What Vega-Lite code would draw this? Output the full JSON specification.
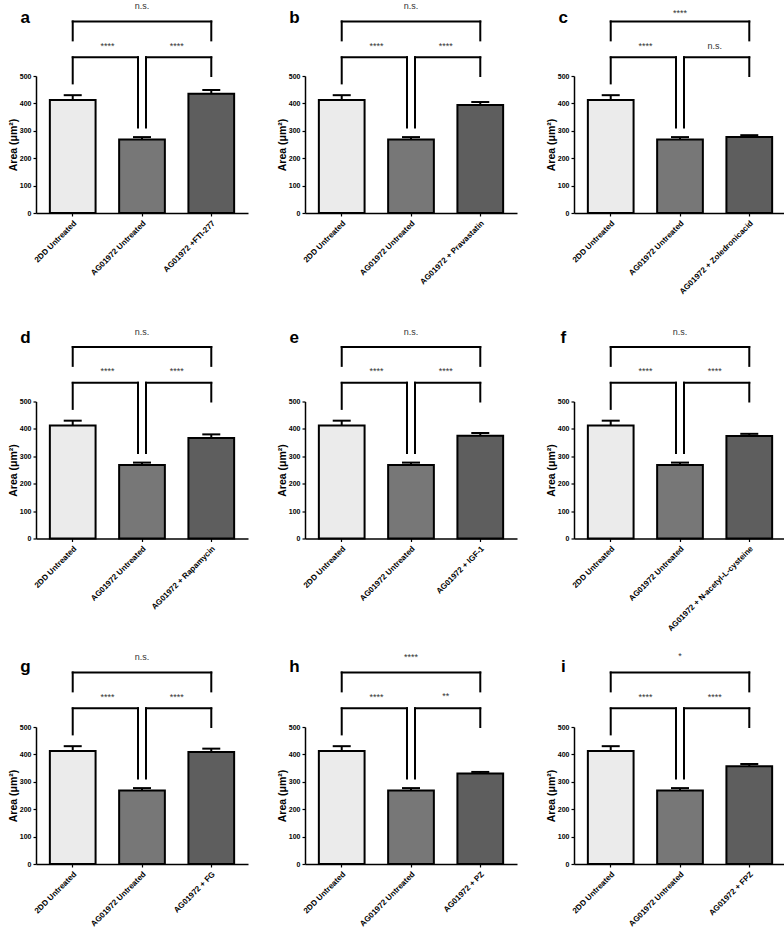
{
  "$schema": "https://vega.github.io/schema/vega-lite/v6.json",
  "background": "white",
  "padding": {"left": 8, "top": 2, "right": 0, "bottom": 0},
  "data": {"values": [
    {"panel":"a","kind":"bar","group":"1|2DD Untreated","value":412,"upper":430,"shade":"s1"},
    {"panel":"a","kind":"bar","group":"2|AG01972 Untreated","value":268,"upper":277,"shade":"s2"},
    {"panel":"a","kind":"bar","group":"3|AG01972 +FTI-277","value":435,"upper":449,"shade":"s3"},
    {"panel":"a","kind":"legC","group":"1|2DD Untreated","lo":630,"hi":699},
    {"panel":"a","kind":"legC","group":"3|AG01972 +FTI-277","lo":630,"hi":699},
    {"panel":"a","kind":"legC","group":"1|2DD Untreated","lo":473,"hi":568},
    {"panel":"a","kind":"legC","group":"3|AG01972 +FTI-277","lo":500,"hi":568},
    {"panel":"a","kind":"legL","group":"2|AG01972 Untreated","lo":312,"hi":568},
    {"panel":"a","kind":"legR","group":"2|AG01972 Untreated","lo":312,"hi":568},
    {"panel":"a","kind":"hC","group":"1|2DD Untreated","group2":"3|AG01972 +FTI-277","hi":699},
    {"panel":"a","kind":"hL","group":"1|2DD Untreated","group2":"2|AG01972 Untreated","hi":568},
    {"panel":"a","kind":"hR","group":"2|AG01972 Untreated","group2":"3|AG01972 +FTI-277","hi":568},
    {"panel":"a","kind":"labTop","group":"2|AG01972 Untreated","hi":743,"text":"n.s."},
    {"panel":"a","kind":"labSide","group":"1|2DD Untreated","hi":600,"text":"****"},
    {"panel":"a","kind":"labSide","group":"2|AG01972 Untreated","hi":600,"text":"****"},
    {"panel":"a","kind":"letter","group":"1|2DD Untreated","hi":693,"text":"a"},

    {"panel":"b","kind":"bar","group":"1|2DD Untreated","value":412,"upper":430,"shade":"s1"},
    {"panel":"b","kind":"bar","group":"2|AG01972 Untreated","value":268,"upper":277,"shade":"s2"},
    {"panel":"b","kind":"bar","group":"3|AG01972 + Pravastatin","value":394,"upper":405,"shade":"s3"},
    {"panel":"b","kind":"legC","group":"1|2DD Untreated","lo":630,"hi":699},
    {"panel":"b","kind":"legC","group":"3|AG01972 + Pravastatin","lo":630,"hi":699},
    {"panel":"b","kind":"legC","group":"1|2DD Untreated","lo":473,"hi":568},
    {"panel":"b","kind":"legC","group":"3|AG01972 + Pravastatin","lo":500,"hi":568},
    {"panel":"b","kind":"legL","group":"2|AG01972 Untreated","lo":312,"hi":568},
    {"panel":"b","kind":"legR","group":"2|AG01972 Untreated","lo":312,"hi":568},
    {"panel":"b","kind":"hC","group":"1|2DD Untreated","group2":"3|AG01972 + Pravastatin","hi":699},
    {"panel":"b","kind":"hL","group":"1|2DD Untreated","group2":"2|AG01972 Untreated","hi":568},
    {"panel":"b","kind":"hR","group":"2|AG01972 Untreated","group2":"3|AG01972 + Pravastatin","hi":568},
    {"panel":"b","kind":"labTop","group":"2|AG01972 Untreated","hi":743,"text":"n.s."},
    {"panel":"b","kind":"labSide","group":"1|2DD Untreated","hi":600,"text":"****"},
    {"panel":"b","kind":"labSide","group":"2|AG01972 Untreated","hi":600,"text":"****"},
    {"panel":"b","kind":"letter","group":"1|2DD Untreated","hi":693,"text":"b"},

    {"panel":"c","kind":"bar","group":"1|2DD Untreated","value":412,"upper":430,"shade":"s1"},
    {"panel":"c","kind":"bar","group":"2|AG01972 Untreated","value":268,"upper":277,"shade":"s2"},
    {"panel":"c","kind":"bar","group":"3|AG01972 + Zoledronicacid","value":277,"upper":284,"shade":"s3"},
    {"panel":"c","kind":"legC","group":"1|2DD Untreated","lo":630,"hi":699},
    {"panel":"c","kind":"legC","group":"3|AG01972 + Zoledronicacid","lo":630,"hi":699},
    {"panel":"c","kind":"legC","group":"1|2DD Untreated","lo":473,"hi":568},
    {"panel":"c","kind":"legC","group":"3|AG01972 + Zoledronicacid","lo":500,"hi":568},
    {"panel":"c","kind":"legL","group":"2|AG01972 Untreated","lo":312,"hi":568},
    {"panel":"c","kind":"legR","group":"2|AG01972 Untreated","lo":312,"hi":568},
    {"panel":"c","kind":"hC","group":"1|2DD Untreated","group2":"3|AG01972 + Zoledronicacid","hi":699},
    {"panel":"c","kind":"hL","group":"1|2DD Untreated","group2":"2|AG01972 Untreated","hi":568},
    {"panel":"c","kind":"hR","group":"2|AG01972 Untreated","group2":"3|AG01972 + Zoledronicacid","hi":568},
    {"panel":"c","kind":"labTop","group":"2|AG01972 Untreated","hi":718,"text":"****"},
    {"panel":"c","kind":"labSide","group":"1|2DD Untreated","hi":600,"text":"****"},
    {"panel":"c","kind":"labSide","group":"2|AG01972 Untreated","hi":600,"text":"n.s."},
    {"panel":"c","kind":"letter","group":"1|2DD Untreated","hi":693,"text":"c"},

    {"panel":"d","kind":"bar","group":"1|2DD Untreated","value":412,"upper":430,"shade":"s1"},
    {"panel":"d","kind":"bar","group":"2|AG01972 Untreated","value":268,"upper":277,"shade":"s2"},
    {"panel":"d","kind":"bar","group":"3|AG01972 + Rapamycin","value":367,"upper":380,"shade":"s3"},
    {"panel":"d","kind":"legC","group":"1|2DD Untreated","lo":630,"hi":699},
    {"panel":"d","kind":"legC","group":"3|AG01972 + Rapamycin","lo":630,"hi":699},
    {"panel":"d","kind":"legC","group":"1|2DD Untreated","lo":473,"hi":568},
    {"panel":"d","kind":"legC","group":"3|AG01972 + Rapamycin","lo":500,"hi":568},
    {"panel":"d","kind":"legL","group":"2|AG01972 Untreated","lo":312,"hi":568},
    {"panel":"d","kind":"legR","group":"2|AG01972 Untreated","lo":312,"hi":568},
    {"panel":"d","kind":"hC","group":"1|2DD Untreated","group2":"3|AG01972 + Rapamycin","hi":699},
    {"panel":"d","kind":"hL","group":"1|2DD Untreated","group2":"2|AG01972 Untreated","hi":568},
    {"panel":"d","kind":"hR","group":"2|AG01972 Untreated","group2":"3|AG01972 + Rapamycin","hi":568},
    {"panel":"d","kind":"labTop","group":"2|AG01972 Untreated","hi":743,"text":"n.s."},
    {"panel":"d","kind":"labSide","group":"1|2DD Untreated","hi":600,"text":"****"},
    {"panel":"d","kind":"labSide","group":"2|AG01972 Untreated","hi":600,"text":"****"},
    {"panel":"d","kind":"letter","group":"1|2DD Untreated","hi":712,"text":"d"},

    {"panel":"e","kind":"bar","group":"1|2DD Untreated","value":412,"upper":430,"shade":"s1"},
    {"panel":"e","kind":"bar","group":"2|AG01972 Untreated","value":268,"upper":277,"shade":"s2"},
    {"panel":"e","kind":"bar","group":"3|AG01972 + IGF-1","value":375,"upper":385,"shade":"s3"},
    {"panel":"e","kind":"legC","group":"1|2DD Untreated","lo":630,"hi":699},
    {"panel":"e","kind":"legC","group":"3|AG01972 + IGF-1","lo":630,"hi":699},
    {"panel":"e","kind":"legC","group":"1|2DD Untreated","lo":473,"hi":568},
    {"panel":"e","kind":"legC","group":"3|AG01972 + IGF-1","lo":500,"hi":568},
    {"panel":"e","kind":"legL","group":"2|AG01972 Untreated","lo":312,"hi":568},
    {"panel":"e","kind":"legR","group":"2|AG01972 Untreated","lo":312,"hi":568},
    {"panel":"e","kind":"hC","group":"1|2DD Untreated","group2":"3|AG01972 + IGF-1","hi":699},
    {"panel":"e","kind":"hL","group":"1|2DD Untreated","group2":"2|AG01972 Untreated","hi":568},
    {"panel":"e","kind":"hR","group":"2|AG01972 Untreated","group2":"3|AG01972 + IGF-1","hi":568},
    {"panel":"e","kind":"labTop","group":"2|AG01972 Untreated","hi":743,"text":"n.s."},
    {"panel":"e","kind":"labSide","group":"1|2DD Untreated","hi":600,"text":"****"},
    {"panel":"e","kind":"labSide","group":"2|AG01972 Untreated","hi":600,"text":"****"},
    {"panel":"e","kind":"letter","group":"1|2DD Untreated","hi":712,"text":"e"},

    {"panel":"f","kind":"bar","group":"1|2DD Untreated","value":412,"upper":430,"shade":"s1"},
    {"panel":"f","kind":"bar","group":"2|AG01972 Untreated","value":268,"upper":277,"shade":"s2"},
    {"panel":"f","kind":"bar","group":"3|AG01972 + N-acetyl-L-cysteine","value":374,"upper":382,"shade":"s3"},
    {"panel":"f","kind":"legC","group":"1|2DD Untreated","lo":630,"hi":699},
    {"panel":"f","kind":"legC","group":"3|AG01972 + N-acetyl-L-cysteine","lo":630,"hi":699},
    {"panel":"f","kind":"legC","group":"1|2DD Untreated","lo":473,"hi":568},
    {"panel":"f","kind":"legC","group":"3|AG01972 + N-acetyl-L-cysteine","lo":500,"hi":568},
    {"panel":"f","kind":"legL","group":"2|AG01972 Untreated","lo":312,"hi":568},
    {"panel":"f","kind":"legR","group":"2|AG01972 Untreated","lo":312,"hi":568},
    {"panel":"f","kind":"hC","group":"1|2DD Untreated","group2":"3|AG01972 + N-acetyl-L-cysteine","hi":699},
    {"panel":"f","kind":"hL","group":"1|2DD Untreated","group2":"2|AG01972 Untreated","hi":568},
    {"panel":"f","kind":"hR","group":"2|AG01972 Untreated","group2":"3|AG01972 + N-acetyl-L-cysteine","hi":568},
    {"panel":"f","kind":"labTop","group":"2|AG01972 Untreated","hi":743,"text":"n.s."},
    {"panel":"f","kind":"labSide","group":"1|2DD Untreated","hi":600,"text":"****"},
    {"panel":"f","kind":"labSide","group":"2|AG01972 Untreated","hi":600,"text":"****"},
    {"panel":"f","kind":"letter","group":"1|2DD Untreated","hi":712,"text":"f"},

    {"panel":"g","kind":"bar","group":"1|2DD Untreated","value":412,"upper":430,"shade":"s1"},
    {"panel":"g","kind":"bar","group":"2|AG01972 Untreated","value":268,"upper":277,"shade":"s2"},
    {"panel":"g","kind":"bar","group":"3|AG01972 + FG","value":409,"upper":421,"shade":"s3"},
    {"panel":"g","kind":"legC","group":"1|2DD Untreated","lo":630,"hi":699},
    {"panel":"g","kind":"legC","group":"3|AG01972 + FG","lo":630,"hi":699},
    {"panel":"g","kind":"legC","group":"1|2DD Untreated","lo":473,"hi":568},
    {"panel":"g","kind":"legC","group":"3|AG01972 + FG","lo":500,"hi":568},
    {"panel":"g","kind":"legL","group":"2|AG01972 Untreated","lo":312,"hi":568},
    {"panel":"g","kind":"legR","group":"2|AG01972 Untreated","lo":312,"hi":568},
    {"panel":"g","kind":"hC","group":"1|2DD Untreated","group2":"3|AG01972 + FG","hi":699},
    {"panel":"g","kind":"hL","group":"1|2DD Untreated","group2":"2|AG01972 Untreated","hi":568},
    {"panel":"g","kind":"hR","group":"2|AG01972 Untreated","group2":"3|AG01972 + FG","hi":568},
    {"panel":"g","kind":"labTop","group":"2|AG01972 Untreated","hi":743,"text":"n.s."},
    {"panel":"g","kind":"labSide","group":"1|2DD Untreated","hi":600,"text":"****"},
    {"panel":"g","kind":"labSide","group":"2|AG01972 Untreated","hi":600,"text":"****"},
    {"panel":"g","kind":"letter","group":"1|2DD Untreated","hi":701,"text":"g"},

    {"panel":"h","kind":"bar","group":"1|2DD Untreated","value":412,"upper":430,"shade":"s1"},
    {"panel":"h","kind":"bar","group":"2|AG01972 Untreated","value":268,"upper":277,"shade":"s2"},
    {"panel":"h","kind":"bar","group":"3|AG01972 + PZ","value":330,"upper":336,"shade":"s3"},
    {"panel":"h","kind":"legC","group":"1|2DD Untreated","lo":630,"hi":699},
    {"panel":"h","kind":"legC","group":"3|AG01972 + PZ","lo":630,"hi":699},
    {"panel":"h","kind":"legC","group":"1|2DD Untreated","lo":473,"hi":568},
    {"panel":"h","kind":"legC","group":"3|AG01972 + PZ","lo":500,"hi":568},
    {"panel":"h","kind":"legL","group":"2|AG01972 Untreated","lo":312,"hi":568},
    {"panel":"h","kind":"legR","group":"2|AG01972 Untreated","lo":312,"hi":568},
    {"panel":"h","kind":"hC","group":"1|2DD Untreated","group2":"3|AG01972 + PZ","hi":699},
    {"panel":"h","kind":"hL","group":"1|2DD Untreated","group2":"2|AG01972 Untreated","hi":568},
    {"panel":"h","kind":"hR","group":"2|AG01972 Untreated","group2":"3|AG01972 + PZ","hi":568},
    {"panel":"h","kind":"labTop","group":"2|AG01972 Untreated","hi":745,"text":"****"},
    {"panel":"h","kind":"labSide","group":"1|2DD Untreated","hi":600,"text":"****"},
    {"panel":"h","kind":"labSide","group":"2|AG01972 Untreated","hi":604,"text":"**"},
    {"panel":"h","kind":"letter","group":"1|2DD Untreated","hi":701,"text":"h"},

    {"panel":"i","kind":"bar","group":"1|2DD Untreated","value":412,"upper":430,"shade":"s1"},
    {"panel":"i","kind":"bar","group":"2|AG01972 Untreated","value":268,"upper":277,"shade":"s2"},
    {"panel":"i","kind":"bar","group":"3|AG01972 + FPZ","value":357,"upper":365,"shade":"s3"},
    {"panel":"i","kind":"legC","group":"1|2DD Untreated","lo":630,"hi":699},
    {"panel":"i","kind":"legC","group":"3|AG01972 + FPZ","lo":630,"hi":699},
    {"panel":"i","kind":"legC","group":"1|2DD Untreated","lo":473,"hi":568},
    {"panel":"i","kind":"legC","group":"3|AG01972 + FPZ","lo":500,"hi":568},
    {"panel":"i","kind":"legL","group":"2|AG01972 Untreated","lo":312,"hi":568},
    {"panel":"i","kind":"legR","group":"2|AG01972 Untreated","lo":312,"hi":568},
    {"panel":"i","kind":"hC","group":"1|2DD Untreated","group2":"3|AG01972 + FPZ","hi":699},
    {"panel":"i","kind":"hL","group":"1|2DD Untreated","group2":"2|AG01972 Untreated","hi":568},
    {"panel":"i","kind":"hR","group":"2|AG01972 Untreated","group2":"3|AG01972 + FPZ","hi":568},
    {"panel":"i","kind":"labTop","group":"2|AG01972 Untreated","hi":750,"text":"*"},
    {"panel":"i","kind":"labSide","group":"1|2DD Untreated","hi":600,"text":"****"},
    {"panel":"i","kind":"labSide","group":"2|AG01972 Untreated","hi":600,"text":"****"},
    {"panel":"i","kind":"letter","group":"1|2DD Untreated","hi":701,"text":"i"}
  ]},
  "facet": {"field": "panel", "type": "nominal", "header": {"title": null, "labels": false, "labelExpr": "''", "labelFontSize": 0, "labelPadding": 0}},
  "columns": 3,
  "align": "all",
  "spacing": {"row": 17.5, "column": 29},
  "resolve": {"scale": {"x": "independent"}, "axis": {"x": "independent", "y": "independent"}},
  "spec": {
    "width": 212,
    "height": 137,
    "layer": [
      {
        "transform": [{"filter": "datum.kind == 'bar'"}],
        "mark": {"type": "bar", "stroke": "black", "strokeWidth": 2},
        "encoding": {
          "x": {"field": "group", "type": "nominal", "title": null,
                "scale": {"paddingInner": 0.34, "paddingOuter": 0.2},
                "axis": {"labelExpr": "split(datum.label, '|')[1]"}},
          "y": {"field": "value", "type": "quantitative", "title": "Area (μm²)", "scale": {"domain": [0, 500]}},
          "fill": {"field": "shade", "type": "nominal", "legend": null,
                   "scale": {"domain": ["s1", "s2", "s3"], "range": ["#ebebeb", "#777777", "#5e5e5e"]}}
        }
      },
      {
        "transform": [{"filter": "datum.kind == 'bar'"}],
        "mark": {"type": "rule", "strokeWidth": 2, "color": "black"},
        "encoding": {
          "x": {"field": "group", "type": "nominal", "title": null},
          "y": {"field": "value", "type": "quantitative", "title": "Area (μm²)"},
          "y2": {"field": "upper"}
        }
      },
      {
        "transform": [{"filter": "datum.kind == 'bar'"}],
        "mark": {"type": "tick", "size": 18, "thickness": 2, "color": "black", "opacity": 1},
        "encoding": {
          "x": {"field": "group", "type": "nominal", "title": null},
          "y": {"field": "upper", "type": "quantitative", "title": "Area (μm²)"}
        }
      },
      {
        "transform": [{"filter": "datum.kind == 'legC'"}],
        "mark": {"type": "rule", "strokeWidth": 2, "color": "black", "strokeCap": "square"},
        "encoding": {
          "x": {"field": "group", "type": "nominal", "title": null},
          "y": {"field": "lo", "type": "quantitative", "title": "Area (μm²)"},
          "y2": {"field": "hi"}
        }
      },
      {
        "transform": [{"filter": "datum.kind == 'legL'"}],
        "mark": {"type": "rule", "strokeWidth": 2, "color": "black", "strokeCap": "square", "xOffset": -4},
        "encoding": {
          "x": {"field": "group", "type": "nominal", "title": null},
          "y": {"field": "lo", "type": "quantitative", "title": "Area (μm²)"},
          "y2": {"field": "hi"}
        }
      },
      {
        "transform": [{"filter": "datum.kind == 'legR'"}],
        "mark": {"type": "rule", "strokeWidth": 2, "color": "black", "strokeCap": "square", "xOffset": 4},
        "encoding": {
          "x": {"field": "group", "type": "nominal", "title": null},
          "y": {"field": "lo", "type": "quantitative", "title": "Area (μm²)"},
          "y2": {"field": "hi"}
        }
      },
      {
        "transform": [{"filter": "datum.kind == 'hC'"}],
        "mark": {"type": "rule", "strokeWidth": 2, "color": "black", "strokeCap": "square"},
        "encoding": {
          "x": {"field": "group", "type": "nominal", "title": null},
          "x2": {"field": "group2"},
          "y": {"field": "hi", "type": "quantitative", "title": "Area (μm²)"}
        }
      },
      {
        "transform": [{"filter": "datum.kind == 'hL'"}],
        "mark": {"type": "rule", "strokeWidth": 2, "color": "black", "strokeCap": "square", "x2Offset": -4},
        "encoding": {
          "x": {"field": "group", "type": "nominal", "title": null},
          "x2": {"field": "group2"},
          "y": {"field": "hi", "type": "quantitative", "title": "Area (μm²)"}
        }
      },
      {
        "transform": [{"filter": "datum.kind == 'hR'"}],
        "mark": {"type": "rule", "strokeWidth": 2, "color": "black", "strokeCap": "square", "xOffset": 4},
        "encoding": {
          "x": {"field": "group", "type": "nominal", "title": null},
          "x2": {"field": "group2"},
          "y": {"field": "hi", "type": "quantitative", "title": "Area (μm²)"}
        }
      },
      {
        "transform": [{"filter": "datum.kind == 'labTop'"}],
        "mark": {"type": "text", "fontSize": 9, "font": "Liberation Sans", "color": "#333333", "align": "center", "baseline": "alphabetic"},
        "encoding": {
          "x": {"field": "group", "type": "nominal", "title": null},
          "y": {"field": "hi", "type": "quantitative", "title": "Area (μm²)"},
          "text": {"field": "text"}
        }
      },
      {
        "transform": [{"filter": "datum.kind == 'labSide'"}],
        "mark": {"type": "text", "fontSize": 9, "font": "Liberation Sans", "color": "#333333", "align": "center", "baseline": "alphabetic"},
        "encoding": {
          "x": {"field": "group", "type": "nominal", "title": null, "bandPosition": 1.258},
          "y": {"field": "hi", "type": "quantitative", "title": "Area (μm²)"},
          "text": {"field": "text"}
        }
      },
      {
        "transform": [{"filter": "datum.kind == 'letter'"}],
        "mark": {"type": "text", "fontSize": 17, "font": "Liberation Sans", "fontWeight": "bold", "color": "black", "align": "center", "baseline": "alphabetic", "dx": -24.5},
        "encoding": {
          "x": {"field": "group", "type": "nominal", "title": null, "bandPosition": 0},
          "y": {"field": "hi", "type": "quantitative", "title": "Area (μm²)"},
          "text": {"field": "text"}
        }
      }
    ]
  },
  "config": {
    "view": {"stroke": null},
    "font": "Liberation Sans",
    "header": {"labels": false, "title": null},
    "headerFacet": {"labels": false, "title": null},
    "axis": {
      "grid": false,
      "domainColor": "black",
      "domainWidth": 1.5,
      "tickColor": "black",
      "tickWidth": 1.2,
      "tickSize": 3,
      "labelColor": "black",
      "labelFont": "Liberation Sans",
      "labelFontWeight": "bold",
      "titleFont": "Liberation Sans",
      "titleFontWeight": "bold",
      "titleFontSize": 10.5,
      "titleColor": "black"
    },
    "axisX": {"labelAngle": -45, "labelFontSize": 8, "labelPadding": 3},
    "axisY": {"values": [0, 100, 200, 300, 400, 500], "labelFontSize": 7, "labelPadding": 2, "titlePadding": 1}
  }
}
